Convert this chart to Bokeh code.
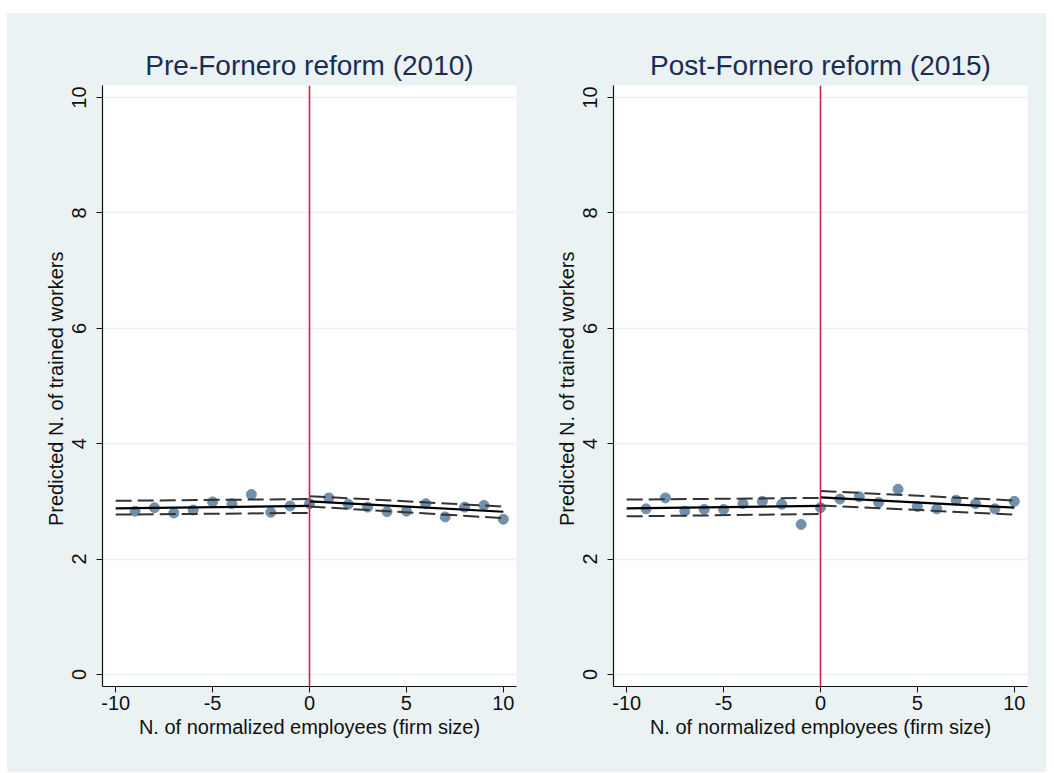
from bokeh.plotting import figure
from bokeh.layouts import row, column
from bokeh.models import Spacer, FixedTicker, Span, Range1d
from bokeh.embed import file_html
from bokeh.resources import INLINE

# ---- data ----
bins = [-9, -8, -7, -6, -5, -4, -3, -2, -1, 0, 1, 2, 3, 4, 5, 6, 7, 8, 9, 10]
pre_means = [2.83, 2.89, 2.80, 2.85, 2.99, 2.96, 3.12, 2.81, 2.92, 2.96,
             3.06, 2.95, 2.90, 2.82, 2.83, 2.96, 2.73, 2.90, 2.93, 2.69]
post_means = [2.87, 3.06, 2.83, 2.86, 2.86, 2.96, 3.00, 2.95, 2.60, 2.89,
              3.04, 3.08, 2.98, 3.21, 2.91, 2.87, 3.02, 2.96, 2.87, 3.00]

fit_x_left = [-10, 0]
fit_x_right = [0, 10]
pre_fit_left = [2.88, 2.92]
pre_lo_left = [2.77, 2.80]
pre_hi_left = [3.01, 3.04]
pre_fit_right = [3.00, 2.82]
pre_lo_right = [2.91, 2.71]
pre_hi_right = [3.09, 2.91]
post_fit_left = [2.88, 2.92]
post_lo_left = [2.74, 2.78]
post_hi_left = [3.03, 3.06]
post_fit_right = [3.07, 2.89]
post_lo_right = [2.93, 2.77]
post_hi_right = [3.18, 3.015]

x_ticks = [-10, -5, 0, 5, 10]
x_tick_labels = ["-10", "-5", "0", "5", "10"]
y_ticks = [0, 2, 4, 6, 8, 10]
titles = ["Pre-Fornero reform (2010)", "Post-Fornero reform (2015)"]
x_label = "N. of normalized employees (firm size)"
y_label = "Predicted  N. of trained workers"

BG = "#eaf2f3"
FONT = "Liberation Sans"
H = 759


def make_panel(title, means, fits, width, mb_left, mb_right):
    p = figure(width=width, height=H, output_backend="svg", toolbar_location=None,
               x_range=Range1d(-10.68, 10.68), y_range=Range1d(-0.21, 10.21),
               min_border_left=mb_left, min_border_right=mb_right,
               min_border_top=72, min_border_bottom=H - 72 - 601)
    p.border_fill_color = BG
    p.background_fill_color = "white"
    p.outline_line_color = None

    p.title.text = title
    p.title.align = "center"
    p.title.text_font = FONT
    p.title.text_font_size = "28px"
    p.title.text_font_style = "normal"
    p.title.text_color = "#1c2d52"
    p.title.standoff = 10

    p.xgrid.grid_line_color = None
    p.ygrid.grid_line_color = BG
    p.ygrid.grid_line_width = 1.5

    for ax in (p.xaxis[0], p.yaxis[0]):
        ax.axis_line_color = "#111111"
        ax.axis_line_width = 1.2
        ax.major_tick_line_color = "#111111"
        ax.major_tick_in = 0
        ax.major_tick_out = 6
        ax.minor_tick_line_color = None
        ax.major_label_text_font = FONT
        ax.major_label_text_font_size = "20px"
        ax.major_label_text_color = "#111111"
        ax.axis_label_text_font = FONT
        ax.axis_label_text_font_size = "20px"
        ax.axis_label_text_font_style = "normal"
        ax.axis_label_text_color = "#111111"

    p.xaxis.ticker = FixedTicker(ticks=x_ticks)
    p.xaxis.major_label_overrides = {t: s for t, s in zip(x_ticks, x_tick_labels)}
    p.yaxis.ticker = FixedTicker(ticks=y_ticks)
    p.xaxis.axis_label = x_label
    p.yaxis.axis_label = y_label
    p.xaxis.major_label_standoff = 3
    p.xaxis.axis_label_standoff = 3
    p.yaxis.major_label_standoff = 10
    p.yaxis.axis_label_standoff = 3
    p.yaxis.major_label_orientation = "parallel"

    p.add_layout(Span(location=0, dimension="height", line_color="#d01f48", line_width=1.6))

    p.scatter(bins, means, size=10, fill_color="#7390ab", line_color="#7390ab")

    fl, ll, hl, fr, lr, hr = fits
    for xs, ys in ((fit_x_left, ll), (fit_x_left, hl), (fit_x_right, lr), (fit_x_right, hr)):
        p.line(xs, ys, line_color="#333333", line_width=2, line_dash="16 6")
    p.line(fit_x_left, fl, line_color="black", line_width=2.2)
    p.line(fit_x_right, fr, line_color="black", line_width=2.2)
    return p


p1 = make_panel(titles[0], pre_means,
                (pre_fit_left, pre_lo_left, pre_hi_left, pre_fit_right, pre_lo_right, pre_hi_right),
                524, 95, 15)
p2 = make_panel(titles[1], post_means,
                (post_fit_left, post_lo_left, post_hi_left, post_fit_right, post_lo_right, post_hi_right),
                515, 82, 19)

panels = row(p1, p2, spacing=0, styles={"background-color": BG})
layout = column(Spacer(width=1046, height=13),
                row(Spacer(width=7, height=H), panels, spacing=0),
                spacing=0)
open("out.html", "w").write(file_html(layout, INLINE))
